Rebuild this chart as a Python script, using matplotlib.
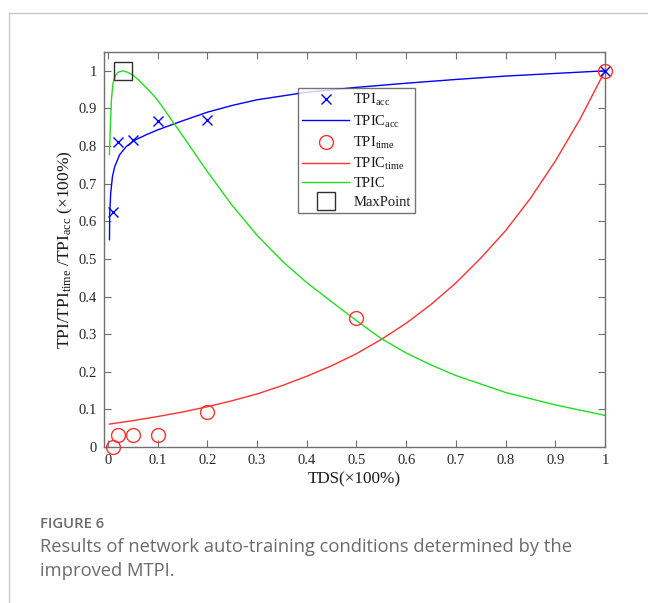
import matplotlib
matplotlib.use("Agg")
import matplotlib.pyplot as plt
from matplotlib.lines import Line2D

# measured points
tds_acc = [0.01, 0.02, 0.05, 0.1, 0.2, 1.0]
tpi_acc = [0.625, 0.812, 0.815, 0.867, 0.870, 1.0]
tds_time = [0.01, 0.02, 0.05, 0.1, 0.2, 0.5, 1.0]
tpi_time = [0.0, 0.031, 0.031, 0.031, 0.094, 0.344, 1.0]

# fitted curves
xc_acc = [0.003, 0.0035, 0.0055, 0.009, 0.0135, 0.0235, 0.037, 0.053, 0.077, 0.1,
          0.15, 0.2, 0.25, 0.3, 0.4, 0.5, 0.6, 0.7, 0.8, 0.9, 1.0]
yc_acc = [0.551, 0.621, 0.675, 0.719, 0.745, 0.777, 0.799, 0.815, 0.830, 0.843,
          0.867, 0.890, 0.908, 0.923, 0.943, 0.956, 0.967, 0.977, 0.986, 0.993, 1.0]
xc_time = [0.003, 0.05, 0.1, 0.15, 0.2, 0.25, 0.3, 0.35, 0.4, 0.45, 0.5, 0.55,
           0.6, 0.65, 0.7, 0.75, 0.8, 0.85, 0.9, 0.95, 1.0]
yc_time = [0.061, 0.070, 0.081, 0.093, 0.107, 0.123, 0.141, 0.163, 0.188, 0.216, 0.248, 0.286,
           0.329, 0.379, 0.436, 0.502, 0.575, 0.661, 0.760, 0.872, 1.0]
xc_tpic = [0.003, 0.005, 0.007, 0.01, 0.015, 0.02, 0.03, 0.04, 0.05, 0.062, 0.075, 0.088, 0.1,
           0.125, 0.15, 0.175, 0.2, 0.25, 0.3, 0.35, 0.4, 0.45, 0.5, 0.55, 0.6, 0.65, 0.7,
           0.8, 0.9, 1.0]
yc_tpic = [0.777, 0.861, 0.923, 0.967, 0.988, 0.996, 1.0, 0.996, 0.989, 0.975, 0.958, 0.940, 0.922,
           0.875, 0.828, 0.780, 0.732, 0.642, 0.563, 0.495, 0.437, 0.386, 0.336, 0.288, 0.250,
           0.218, 0.190, 0.145, 0.112, 0.084]
max_x = [0.03]
max_y = [1.0]

plt.rcParams['font.family'] = ['Liberation Serif', 'DejaVu Serif']
plt.rcParams['mathtext.fontset'] = 'custom'
plt.rcParams['mathtext.rm'] = 'Liberation Serif'
plt.rcParams['mathtext.it'] = 'Liberation Serif'

fig = plt.figure(figsize=(6.48, 6.03), dpi=100)
ax = fig.add_axes([104 / 648, 1 - 447 / 603, 501 / 648, 395 / 603])

ax.plot(tds_acc, tpi_acc, 'x', color='#0000ff', ms=7, mew=1.0, clip_on=False, zorder=4,
        label='TPI$_{\\mathrm{acc}}$')
ax.plot(xc_acc, yc_acc, '-', color='#0000ff', lw=1.0, label='TPIC$_{\\mathrm{acc}}$')
ax.plot(tds_time, tpi_time, 'o', mfc='none', mec='#ff3030', ms=10, mew=1.0, clip_on=False, zorder=4,
        label='TPI$_{\\mathrm{time}}$')
ax.plot(xc_time, yc_time, '-', color='#ff3030', lw=1.0, label='TPIC$_{\\mathrm{time}}$')
ax.plot(xc_tpic, yc_tpic, '-', color='#20dd20', lw=1.0, label='TPIC')
ax.plot(max_x, max_y, 's', mfc='none', mec='#303030', ms=13, mew=1.0, clip_on=False, zorder=5,
        label='MaxPoint')

ax.set_xlim(-0.008, 1)
ax.set_ylim(0, 1.05)
ax.set_xticks([i / 10 for i in range(11)])
ax.set_xticklabels(['0', '0.1', '0.2', '0.3', '0.4', '0.5', '0.6', '0.7', '0.8', '0.9', '1'])
ax.set_yticks([i / 10 for i in range(11)])
ax.set_yticklabels(['0', '0.1', '0.2', '0.3', '0.4', '0.5', '0.6', '0.7', '0.8', '0.9', '1'])
ax.tick_params(direction='in', top=True, right=True, length=5, width=0.8, color='#707070',
               labelsize=10.5, labelcolor='#262626', pad=5)
for s in ax.spines.values():
    s.set_color('#707070')
    s.set_linewidth(1.0)

ax.set_xlabel('TDS(\u00d7100%)', fontsize=12.3, color='#1a1a1a', labelpad=3)
ax.set_ylabel('TPI/TPI$_{\\mathrm{time}}$ /TPI$_{\\mathrm{acc}}$ (\u00d7100%)', fontsize=12.5,
              color='#1a1a1a', labelpad=3)

leg = ax.legend(loc='upper left', bbox_to_anchor=((298 - 104) / 501, (447 - 88) / 395),
                fontsize=10.5, frameon=True, fancybox=False, edgecolor='#505050',
                handlelength=3.2, handletextpad=0.3, borderpad=0.3, labelspacing=0.35,
                borderaxespad=0)
leg.get_frame().set_linewidth(1.0)
for t in leg.get_texts():
    t.set_color('#1a1a1a')

# figure border
fig.add_artist(Line2D([9 / 648, 9 / 648], [0, 1 - 13 / 603], color='#c8c8c8', lw=1.0))
fig.add_artist(Line2D([9 / 648, 1], [1 - 13 / 603, 1 - 13 / 603], color='#c8c8c8', lw=1.0))

fig.text(40 / 648, 1 - 528 / 603, 'FIGURE 6', fontsize=10.7, family=['Open Sans', 'DejaVu Sans'],
         weight='semibold', color='#6b6b6b', va='baseline')
fig.text(40 / 648, 1 - 552 / 603, 'Results of network auto-training conditions determined by the',
         fontsize=13.2, family=['Open Sans', 'DejaVu Sans'], color='#6b6b6b', va='baseline')
fig.text(40 / 648, 1 - 576 / 603, 'improved MTPI.',
         fontsize=13.2, family=['Open Sans', 'DejaVu Sans'], color='#6b6b6b', va='baseline')

fig.savefig('out.png', dpi=100)
